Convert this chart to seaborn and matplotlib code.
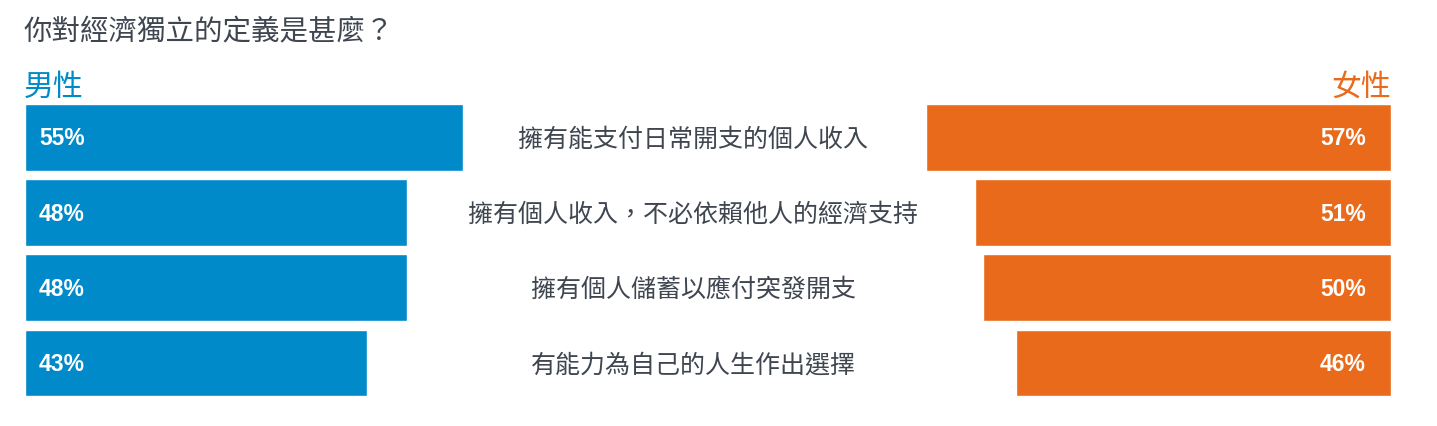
import matplotlib
matplotlib.use("Agg")
import matplotlib.pyplot as plt
import seaborn as sns
import pandas as pd

# data
categories = [
    "擁有能支付日常開支的個人收入",
    "擁有個人收入，不必依賴他人的經濟支持",
    "擁有個人儲蓄以應付突發開支",
    "有能力為自己的人生作出選擇",
]
male = [55, 48, 48, 43]
female = [57, 51, 50, 46]
title = "你對經濟獨立的定義是甚麼？"

blue = "#008ACA"
orange = "#E96A1A"
grey = "#3F4650"

sns.set_theme(style="white")
plt.rcParams['font.family'] = ['Noto Sans CJK TC', 'DejaVu Sans']

df = pd.DataFrame({"cat": categories, "male": male, "female": female})

W, H = 1437, 426
fig = plt.figure(figsize=(W / 100, H / 100), dpi=100)

# axes in pixel terms (top-down), converted to figure fractions
top, bottom = 100.0, 400.6
yb = (H - bottom) / H
hh = (bottom - top) / H

# male side: 0% at x=25, ~7.96 px per %
axl = fig.add_axes([25 / W, yb, 60 * 7.96 / W, hh])
sns.barplot(data=df, y="cat", x="male", orient="h", color=blue,
            saturation=1, width=0.89, ax=axl)
axl.set_xlim(0, 60)

# female side: 0% at x=1391, ~8.16 px per %
fw = 60 * 8.16
axr = fig.add_axes([(1391 - fw) / W, yb, fw / W, hh])
sns.barplot(data=df, y="cat", x="female", orient="h", color=orange,
            saturation=1, width=0.89, ax=axr)
axr.set_xlim(60, 0)

for ax in (axl, axr):
    ax.set_axis_off()
    ax.set_ylim(3.5, -0.5)

for i, v in enumerate(male):
    axl.annotate(f"{v}%", (0, i), xytext=(14 * 0.72, -1), textcoords="offset points",
                 ha="left", va="center", color="white", fontsize=16.5,
                 fontweight="bold", family="Liberation Sans")
for i, v in enumerate(female):
    axr.annotate(f"{v}%", (0, i), xytext=(-25 * 0.72, -1), textcoords="offset points",
                 ha="right", va="center", color="white", fontsize=16.5,
                 fontweight="bold", family="Liberation Sans")

# category labels in the middle
row_centers = [139.5, 214.5, 290, 365]
for c, yc in zip(categories, row_centers):
    fig.text(693 / W, 1 - yc / H, c, ha="center", va="center",
             fontsize=18, color=grey)

fig.text(24 / W, 1 - 32 / H, title, ha="left", va="center",
         fontsize=20.5, color=grey)
fig.text(24 / W, 1 - 87 / H, "男性", ha="left", va="center",
         fontsize=21.5, color=blue)
fig.text(1391 / W, 1 - 87 / H, "女性", ha="right", va="center",
         fontsize=21.5, color=orange)

fig.savefig("out.png", dpi=100, facecolor="white")
